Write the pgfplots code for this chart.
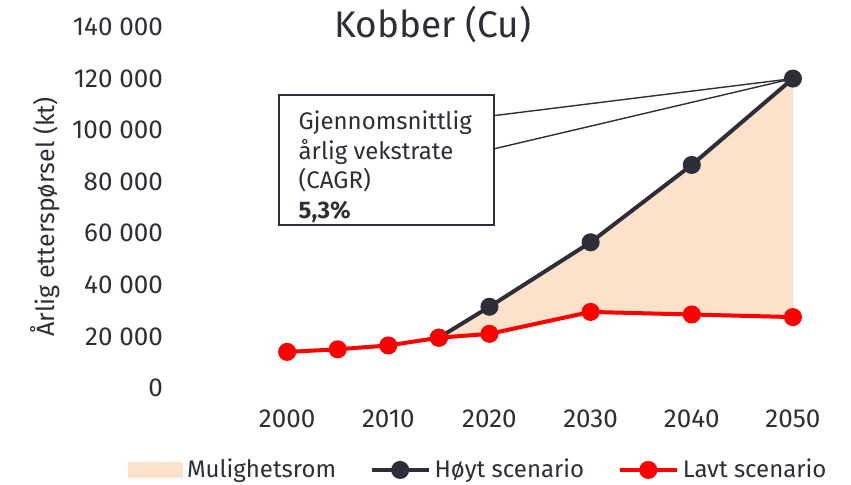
\documentclass[border=0pt]{standalone}
\usepackage{fontspec}
\setmainfont{Fira Sans}
\usepackage{pgfplots}
\pgfplotsset{compat=1.18}
\definecolor{eydark}{HTML}{2E2E38}
\definecolor{peach}{HTML}{FDE2CB}
\definecolor{eyred}{HTML}{FF0000}
\begin{document}
\begin{tikzpicture}
\begin{axis}[
  at={(0,0)}, anchor=south west,
  scale only axis, width=328.75pt, height=180.5pt,
  xmin=1990, xmax=2055, ymin=0, ymax=140000,
  clip=false,
  scaled y ticks=false, scaled x ticks=false,
  axis line style={draw=none},
  major tick style={draw=none},
  major tick length=0pt,
  xtick={2000,2010,2020,2030,2040,2050},
  xticklabels={2000,2010,2020,2030,2040,2050},
  ytick={0,20000,40000,60000,80000,100000,120000,140000},
  yticklabels={0,20 000,40 000,60 000,80 000,100 000,120 000,140 000},
  tick label style={font=\fontsize{13}{15}\selectfont, text=eydark},
  xticklabel style={yshift=-7.5pt},
  yticklabel style={xshift=-8pt},
  legend columns=3,
  legend style={draw=none, fill=none, at={(0.446,-0.227)}, anchor=center,
    font=\fontsize{12}{14}\selectfont, text=eydark,
    /tikz/every even column/.append style={column sep=14.8pt}},
]
\draw[eydark, line width=0.7pt] (axis cs:2020.4,105600) -- (axis cs:2050,120000);
\draw[eydark, line width=0.7pt] (axis cs:2020.4,92700) -- (axis cs:2050,120000);
\draw[eydark, line width=1pt, fill=white] (axis cs:1999.2,63200) rectangle (axis cs:2020.4,113600);
\node[anchor=north west, align=left, inner sep=0pt, text=eydark,
  font=\fontsize{12}{14.75}\selectfont] at (axis cs:2001.1,107600)
  {Gjennomsnittlig\\årlig vekstrate\\(CAGR)\\\textbf{5,3\%}};

\addplot[draw=none, fill=peach,
  legend image code/.code={\fill[peach] (0pt,-4pt) rectangle (27.5pt,4pt);}]
  coordinates {(2015,19500)(2020,31500)(2030,56500)(2040,86500)(2050,120000)
               (2050,27500)(2040,28500)(2030,29500)(2020,21000)(2015,19500)};
\addlegendentry{Mulighetsrom}

\addplot[eydark, line width=2pt, mark=*, mark size=3.5pt,
  mark options={fill=eydark, draw=eydark},
  legend image code/.code={\draw[mark repeat=2,mark phase=2] plot coordinates {(0pt,0pt)(14.25pt,0pt)(28.5pt,0pt)};}]
  coordinates {(2015,19500)(2020,31500)(2030,56500)(2040,86500)(2050,120000)};
\addlegendentry{Høyt scenario}

\addplot[eyred, line width=2pt, mark=*, mark size=3.5pt,
  mark options={fill=eyred, draw=eyred},
  legend image code/.code={\draw[mark repeat=2,mark phase=2] plot coordinates {(0pt,0pt)(14.25pt,0pt)(28.5pt,0pt)};}]
  coordinates {(2000,14000)(2005,15000)(2010,16500)(2015,19500)(2020,21000)(2030,29500)(2040,28500)(2050,27500)};
\addlegendentry{Lavt scenario}

\node[font=\fontsize{18.5}{22}\selectfont, text=eydark] at (rel axis cs:0.3757,1.008) {Kobber (Cu)};
\node[rotate=90, font=\fontsize{12.5}{15}\selectfont, text=eydark] at (rel axis cs:-0.2144,0.474) {Årlig etterspørsel (kt)};
\end{axis}
\pgfresetboundingbox
\path[use as bounding box] (-93pt,-48.5pt) rectangle (332.5pt,194pt);
\end{tikzpicture}
\end{document}
